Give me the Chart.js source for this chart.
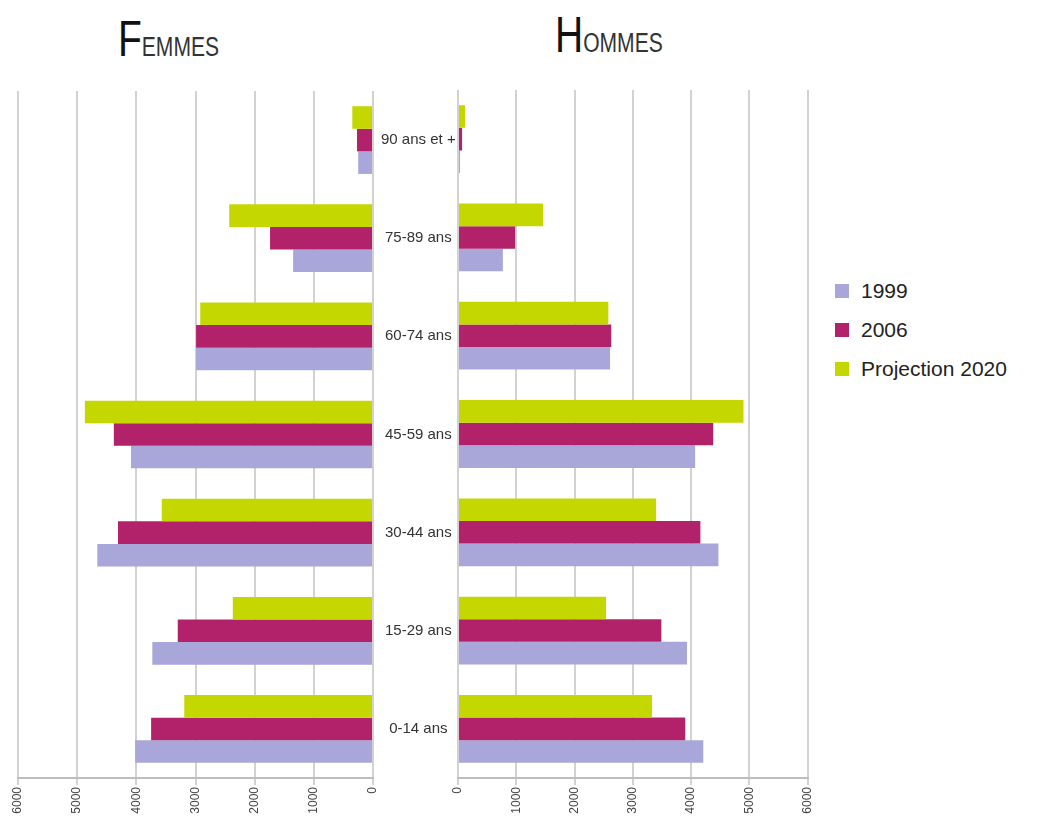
<!DOCTYPE html>
<html lang="fr">
<head>
<meta charset="UTF-8">
<title>Pyramide des âges</title>
<script src="https://cdn.jsdelivr.net/npm/chart.js"></script>
<style>
    body { margin: 0; background: #fff; font-family: "Liberation Sans", Arial, sans-serif; }
    .page { position: relative; width: 1043px; height: 829px; overflow: hidden; }
    .titre { position: absolute; color: #111; white-space: nowrap; transform-origin: left bottom; transform: scaleX(0.78); line-height: 1; }
    .titre .big { font-size: 50px; }
    .titre .small { font-size: 27px; color: #333; }
    #femmes { left: 118px; top: 14px; }
    #hommes { left: 555px; top: 10px; }
    #cFemmes { position: absolute; left: 0; top: 82px; }
    #cHommes { position: absolute; left: 446px; top: 90px; }
    .legende { position: absolute; left: 835px; top: 271px; font-size: 21px; color: #222; }
    .legende div { height: 39px; display: flex; align-items: center; }
    .legende span.carre { display: inline-block; width: 14px; height: 14px; margin-right: 12px; }
</style>
</head>
<body>
<div class="page">
    <div class="titre" id="femmes"><span class="big">F</span><span class="small">EMMES</span></div>
    <div class="titre" id="hommes"><span class="big">H</span><span class="small">OMMES</span></div>

    <canvas id="cFemmes" width="458" height="744"></canvas>
    <canvas id="cHommes" width="378" height="736"></canvas>

    <div class="legende" id="legende"></div>
</div>

<script>
    // tranches d'age, du haut vers le bas
    const ages = ['90 ans et +', '75-89 ans', '60-74 ans', '45-59 ans', '30-44 ans', '15-29 ans', '0-14 ans'];

    const femmes1999 = [250, 1350, 2990, 4090, 4660, 3730, 4020];
    const femmes2006 = [270, 1740, 2990, 4380, 4310, 3300, 3750];
    const femmes2020 = [350, 2430, 2920, 4870, 3570, 2370, 3190];

    const hommes1999 = [35, 770, 2610, 4070, 4470, 3930, 4210];
    const hommes2006 = [70, 980, 2630, 4380, 4160, 3490, 3900];
    const hommes2020 = [120, 1460, 2580, 4900, 3400, 2540, 3330];

    const axeTicks = [0, 1000, 2000, 3000, 4000, 5000, 6000];

    const series = ['1999', '2006', 'Projection 2020'];
    const couleurs = ['#a9a6da', '#b2226a', '#c4d700'];

    function jeux(v1999, v2006, v2020) {
        // ordre inverse pour avoir 2020 en haut de chaque groupe
        return [
            { label: series[2], data: v2020, backgroundColor: couleurs[2] },
            { label: series[1], data: v2006, backgroundColor: couleurs[1] },
            { label: series[0], data: v1999, backgroundColor: couleurs[0] }
        ].map(function (d) {
            d.categoryPercentage = 0.69;
            d.barPercentage = 1.0;
            d.borderWidth = 0;
            return d;
        });
    }

    function axeX(inverse) {
        return {
            type: 'linear',
            min: 0,
            max: 6000,
            reverse: inverse,
            afterBuildTicks: function (scale) {
                scale.ticks = axeTicks.map(function (v) { return { value: v }; });
            },
            afterFit: function (scale) { scale.height = 48; },
            grid: { color: '#d2d2d2', lineWidth: 2, tickLength: 7, drawOnChartArea: true },
            border: { color: '#bdbdbd', width: 2 },
            ticks: {
                minRotation: 90,
                maxRotation: 90,
                color: '#444',
                font: { family: 'Liberation Sans', size: 12 },
                padding: 2,
                callback: function (v) { return String(v); }
            }
        };
    }

    const commun = {
        indexAxis: 'y',
        responsive: false,
        animation: false,
        plugins: { legend: { display: false }, tooltip: { enabled: false } }
    };

    new Chart(document.getElementById('cFemmes'), {
        type: 'bar',
        data: { labels: ages, datasets: jeux(femmes1999, femmes2006, femmes2020) },
        options: Object.assign({}, commun, {
            layout: { padding: { left: 18, top: 0, right: 0, bottom: 0 } },
            scales: {
                x: axeX(true),
                y: {
                    position: 'right',
                    afterFit: function (scale) { scale.width = 85; },
                    grid: { display: false },
                    border: { display: false },
                    ticks: {
                        crossAlign: 'center',
                        color: '#333',
                        font: { family: 'Liberation Sans', size: 15 },
                        padding: 0
                    }
                }
            }
        })
    });

    new Chart(document.getElementById('cHommes'), {
        type: 'bar',
        data: { labels: ages, datasets: jeux(hommes1999, hommes2006, hommes2020) },
        options: Object.assign({}, commun, {
            layout: { padding: { left: 12, top: 0, right: 13, bottom: 0 } },
            scales: {
                x: axeX(false),
                y: { display: false }
            }
        })
    });

    // legende dans l'ordre 1999, 2006, 2020
    var leg = document.getElementById('legende');
    series.forEach(function (s, i) {
        var ligne = document.createElement('div');
        ligne.innerHTML = '<span class="carre" style="background:' + couleurs[i] + '"></span>' + s;
        leg.appendChild(ligne);
    });
</script>
</body>
</html>
